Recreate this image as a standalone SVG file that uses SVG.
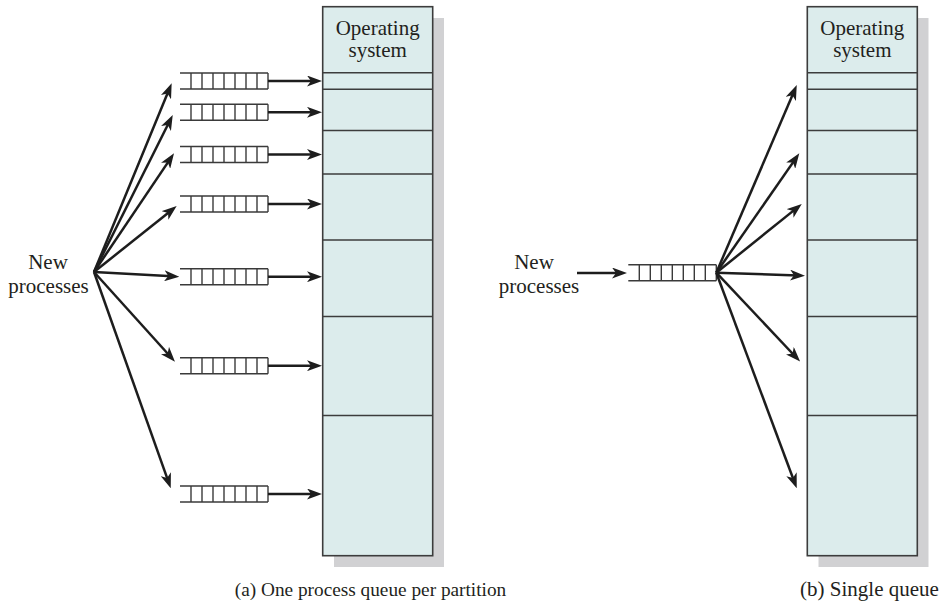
<svg xmlns="http://www.w3.org/2000/svg" xmlns:xlink="http://www.w3.org/1999/xlink" width="948" height="605" viewBox="0 0 948 605">
<style>
.txt{font-family:"Liberation Serif","Times New Roman",serif;font-size:21px;fill:#231f20;text-anchor:middle}
.cap{font-family:"Liberation Serif","Times New Roman",serif;font-size:19.3px;fill:#231f20;text-anchor:middle}
.mem{fill:#dcecec;stroke:#3c3c3c;stroke-width:1.6}
.shadow{fill:#d1d1d3}
.part{stroke:#3c3c3c;stroke-width:1.6}
.q line{stroke:#3a3a3a;stroke-width:1.4}
.arr{stroke:#1d1d1d;stroke-width:2.5;fill:none;marker-end:url(#ah)}
</style>
<defs>
<marker id="ah" markerUnits="userSpaceOnUse" viewBox="0 0 15 11" markerWidth="15" markerHeight="11" refX="8" refY="5.5" orient="auto">
<path d="M0,0 L15,5.5 L0,11 L4,5.5 z" fill="#1d1d1d"/>
</marker>
<g id="queue" class="q">
<line x1="0" y1="-8" x2="88" y2="-8"/>
<line x1="0" y1="8" x2="88" y2="8"/>
<line x1="11" y1="-8" x2="11" y2="8"/>
<line x1="22" y1="-8" x2="22" y2="8"/>
<line x1="33" y1="-8" x2="33" y2="8"/>
<line x1="44" y1="-8" x2="44" y2="8"/>
<line x1="55" y1="-8" x2="55" y2="8"/>
<line x1="66" y1="-8" x2="66" y2="8"/>
<line x1="77" y1="-8" x2="77" y2="8"/>
<line x1="88" y1="-8" x2="88" y2="8"/>
</g>
</defs>
<rect width="948" height="605" fill="#ffffff"/>

<g id="memory-a">
<rect class="shadow" x="334" y="18" width="110" height="549"/>
<rect class="mem" x="322.7" y="6.7" width="110" height="549"/>
<line class="part" x1="322.7" y1="72.7" x2="432.7" y2="72.7"/>
<line class="part" x1="322.7" y1="89.3" x2="432.7" y2="89.3"/>
<line class="part" x1="322.7" y1="130.5" x2="432.7" y2="130.5"/>
<line class="part" x1="322.7" y1="174" x2="432.7" y2="174"/>
<line class="part" x1="322.7" y1="240" x2="432.7" y2="240"/>
<line class="part" x1="322.7" y1="316.5" x2="432.7" y2="316.5"/>
<line class="part" x1="322.7" y1="415.5" x2="432.7" y2="415.5"/>
<text class="txt" x="377.7" y="35">Operating</text>
<text class="txt" x="377.7" y="57">system</text>
</g>

<g id="memory-b">
<rect class="shadow" x="818.5" y="18" width="110" height="549"/>
<rect class="mem" x="807.3" y="6.7" width="110" height="549"/>
<line class="part" x1="807.3" y1="72.7" x2="917.3" y2="72.7"/>
<line class="part" x1="807.3" y1="89.3" x2="917.3" y2="89.3"/>
<line class="part" x1="807.3" y1="130.5" x2="917.3" y2="130.5"/>
<line class="part" x1="807.3" y1="174" x2="917.3" y2="174"/>
<line class="part" x1="807.3" y1="240" x2="917.3" y2="240"/>
<line class="part" x1="807.3" y1="316.5" x2="917.3" y2="316.5"/>
<line class="part" x1="807.3" y1="415.5" x2="917.3" y2="415.5"/>
<text class="txt" x="862.3" y="35">Operating</text>
<text class="txt" x="862.3" y="57">system</text>
</g>

<g id="new-processes-a">
<text class="txt" x="48" y="269">New</text>
<text class="txt" x="48.5" y="293">processes</text>
</g>
<g id="new-processes-b">
<text class="txt" x="534" y="269">New</text>
<text class="txt" x="539" y="293">processes</text>
</g>

<g id="queues-a">
<use xlink:href="#queue" href="#queue" x="180" y="81"/>
<use xlink:href="#queue" href="#queue" x="180" y="112.3"/>
<use xlink:href="#queue" href="#queue" x="180" y="154.5"/>
<use xlink:href="#queue" href="#queue" x="180" y="204"/>
<use xlink:href="#queue" href="#queue" x="180" y="276.7"/>
<use xlink:href="#queue" href="#queue" x="180" y="365.7"/>
<use xlink:href="#queue" href="#queue" x="180" y="494"/>
</g>
<g id="queue-b">
<use xlink:href="#queue" href="#queue" x="628.3" y="272.7"/>
</g>

<g id="connectors">
<line class="arr" x1="94" y1="272" x2="169.0" y2="89.8"/>
<line class="arr" x1="94" y1="272" x2="169.6" y2="121.3"/>
<line class="arr" x1="94" y1="272" x2="170.1" y2="159.1"/>
<line class="arr" x1="94" y1="272" x2="171.2" y2="210.4"/>
<line class="arr" x1="94" y1="272" x2="172.3" y2="276.3"/>
<line class="arr" x1="94" y1="272" x2="170.3" y2="356.5"/>
<line class="arr" x1="94" y1="272" x2="168.4" y2="481.7"/>

<line class="arr" x1="268" y1="81" x2="315" y2="81"/>
<line class="arr" x1="268" y1="112.3" x2="315" y2="112.3"/>
<line class="arr" x1="268" y1="154.5" x2="315" y2="154.5"/>
<line class="arr" x1="268" y1="204" x2="315" y2="204"/>
<line class="arr" x1="268" y1="276.7" x2="315" y2="276.7"/>
<line class="arr" x1="268" y1="365.7" x2="315" y2="365.7"/>
<line class="arr" x1="268" y1="494" x2="315" y2="494"/>

<line class="arr" x1="577" y1="273" x2="620" y2="273"/>

<line class="arr" x1="716.3" y1="272.7" x2="794.0" y2="91.5"/>
<line class="arr" x1="716.3" y1="272.7" x2="795.3" y2="159.1"/>
<line class="arr" x1="716.3" y1="272.7" x2="796.3" y2="208.4"/>
<line class="arr" x1="716.3" y1="272.7" x2="798.0" y2="275.4"/>
<line class="arr" x1="716.3" y1="272.7" x2="795.3" y2="356.5"/>
<line class="arr" x1="716.3" y1="272.7" x2="794.3" y2="481.7"/>
</g>

<g id="captions">
<text class="cap" x="370.5" y="596">(a) One process queue per partition</text>
<text class="cap" x="869.5" y="596" style="font-size:21px">(b) Single queue</text>
</g>
</svg>
